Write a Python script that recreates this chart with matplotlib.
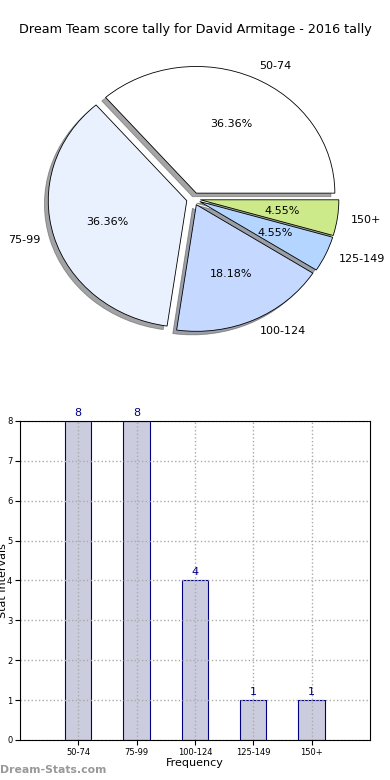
import matplotlib
matplotlib.use("Agg")
import matplotlib.pyplot as plt

title = "Dream Team score tally for David Armitage - 2016 tally"
categories = ["50-74", "75-99", "100-124", "125-149", "150+"]
counts = [8, 8, 4, 1, 1]
pie_colors = ["#ffffff", "#eaf1fe", "#c5d8ff", "#b3d5ff", "#cdea8a"]

fig = plt.figure(figsize=(3.9, 7.8), dpi=100)
fig.text(0.5, 1 - 30 / 780, title, ha="center", va="center", fontsize=9.2)

# pie
ax1 = fig.add_axes([0.052, 0.542, 0.888, 0.406])
wedges, texts, autotexts = ax1.pie(
    counts, labels=categories, colors=pie_colors, explode=[0.05] * 5,
    autopct="%1.2f%%", shadow=True, startangle=0,
    wedgeprops=dict(edgecolor="black", linewidth=0.6),
    textprops=dict(fontsize=8))
ax1.set_aspect("auto")
ax1.set_xlim(-1.25, 1.25)
ax1.set_ylim(-1.25, 1.25)
ax1.axis("off")

# bars
ax2 = fig.add_axes([0.0513, 0.0513, 0.897, 0.409])
x = range(len(categories))
bars = ax2.bar(x, counts, width=0.45, color="#ccccdf", edgecolor="navy", linewidth=0.8)
for xi, c in zip(x, counts):
    ax2.text(xi, c + 0.08, str(c), ha="center", va="bottom", color="navy", fontsize=8)
ax2.set_xlim(-1, 5)
ax2.set_ylim(0, 8)
ax2.set_xticks(list(x))
ax2.set_xticklabels(categories, fontsize=6)
ax2.tick_params(axis="both", labelsize=6, pad=2)
ax2.set_xlabel("Frequency", fontsize=8, labelpad=1)
ax2.set_ylabel("Stat Intervals", fontsize=8)
ax2.yaxis.set_label_coords(-0.035, 0.5)
ax2.grid(True, color="#aaaaaa", linestyle=":", linewidth=1)
for sp in ax2.spines.values():
    sp.set_zorder(5)

fig.text(0.0, 1 - 770 / 780, "Dream-Stats.com", ha="left", va="center",
         fontsize=7.8, color="#999999", fontweight="bold")

fig.savefig("out.png", dpi=100)
